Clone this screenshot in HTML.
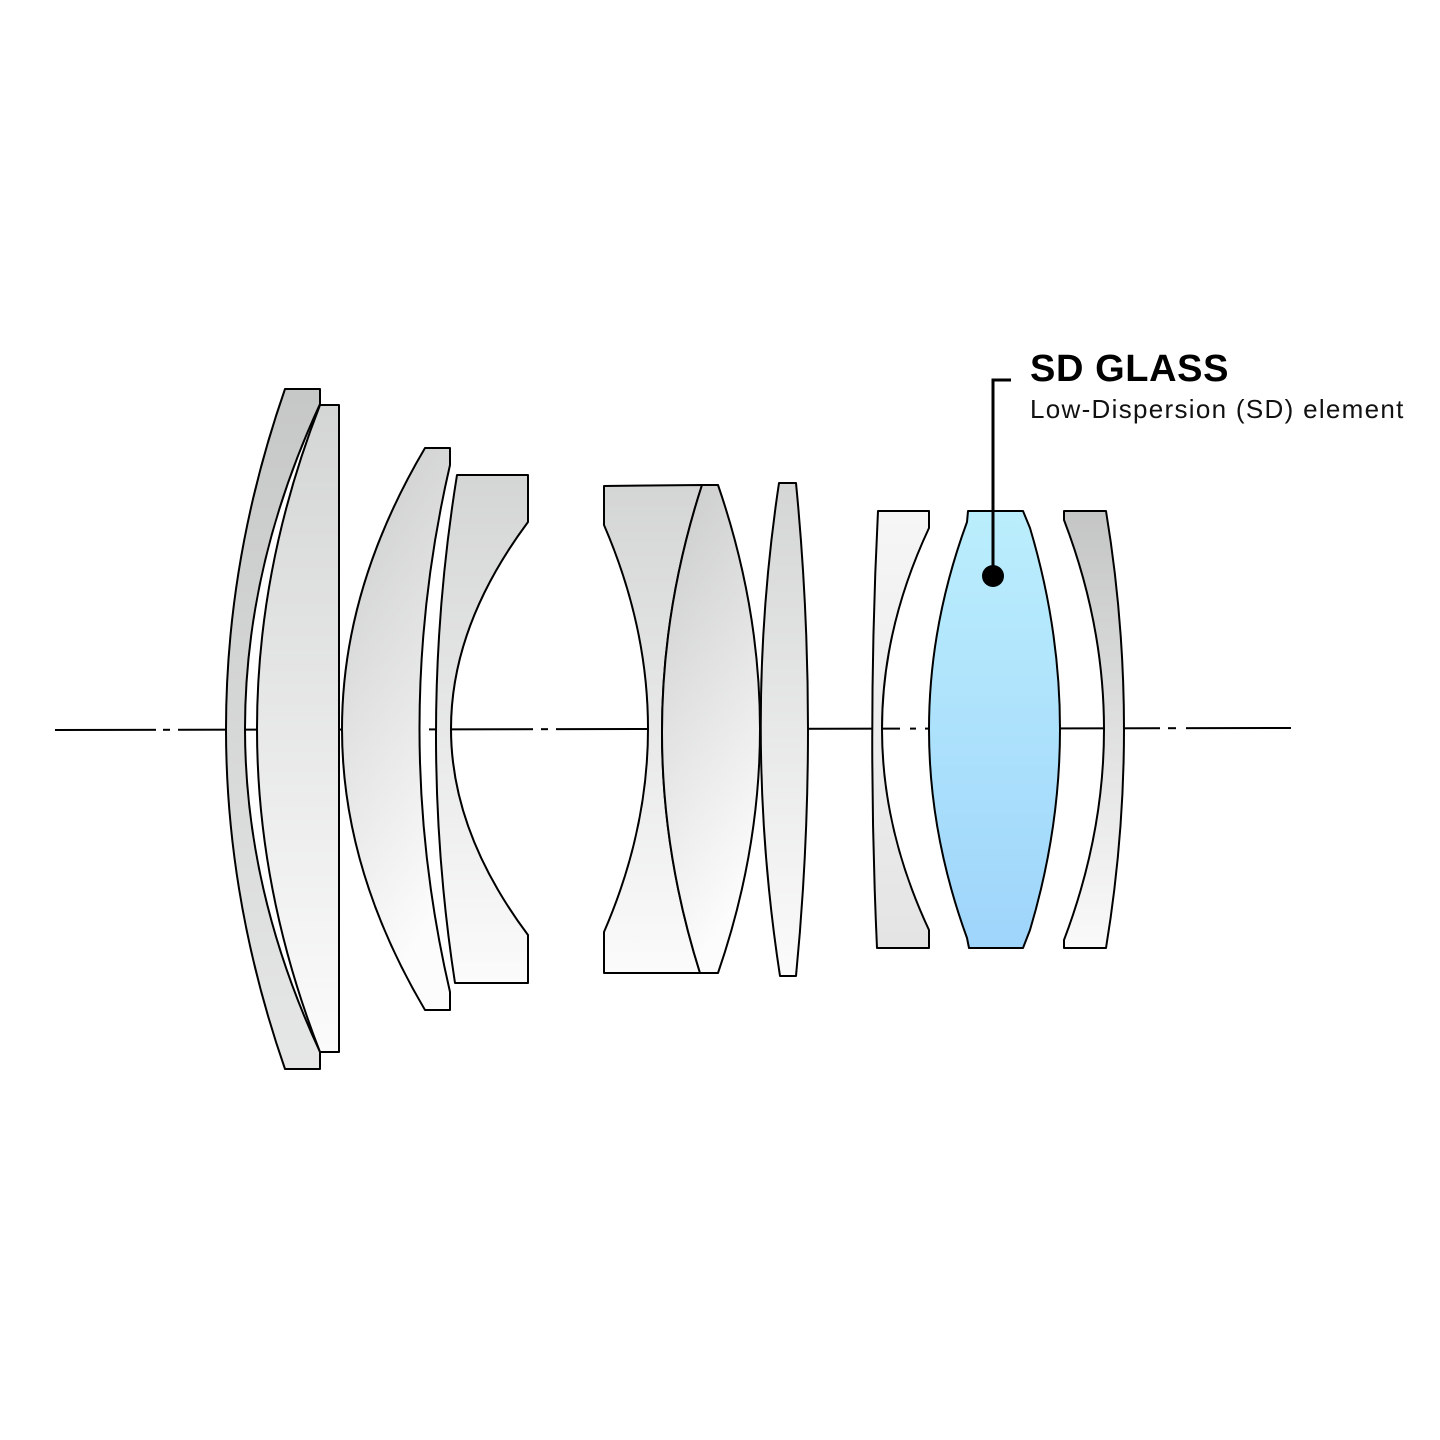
<!DOCTYPE html>
<html><head><style>html,body{margin:0;padding:0;background:#fff;width:1440px;height:1440px;overflow:hidden}</style></head>
<body>
<svg width="1440" height="1440" viewBox="0 0 1440 1440" xmlns="http://www.w3.org/2000/svg">
<defs>
<linearGradient id="g1" x1="0" y1="0" x2="0" y2="1"><stop offset="0" stop-color="#c6c7c7"/><stop offset="1" stop-color="#e6e7e7"/></linearGradient>
<linearGradient id="g2" x1="0" y1="0" x2="0" y2="1"><stop offset="0" stop-color="#d4d5d5"/><stop offset="1" stop-color="#fbfbfb"/></linearGradient>
<linearGradient id="g3" x1="0" y1="0" x2="0.3" y2="1"><stop offset="0" stop-color="#c9caca"/><stop offset="1" stop-color="#fcfcfc"/></linearGradient>
<linearGradient id="g8" x1="0" y1="0" x2="0" y2="1"><stop offset="0" stop-color="#f6f6f6"/><stop offset="1" stop-color="#e4e4e4"/></linearGradient>
<linearGradient id="gb" x1="0" y1="0" x2="0" y2="1"><stop offset="0" stop-color="#bbeefc"/><stop offset="1" stop-color="#9fd5fb"/></linearGradient>
<linearGradient id="g10" x1="0" y1="0" x2="0" y2="1"><stop offset="0" stop-color="#c4c5c5"/><stop offset="1" stop-color="#fafafa"/></linearGradient>
</defs>
<g stroke="#000" stroke-width="2" fill="none">
<line x1="55" y1="730" x2="1291" y2="728"/>
</g>
<g stroke="#fff" stroke-width="4">
<line x1="156" y1="729" x2="163" y2="729"/><line x1="170" y1="729" x2="178" y2="729"/>
<line x1="420" y1="729" x2="429" y2="729"/>
<line x1="533" y1="729" x2="541" y2="729"/><line x1="548" y1="729" x2="556" y2="729"/>
<line x1="900" y1="729" x2="910" y2="729"/><line x1="916" y1="729" x2="925" y2="729"/>
<line x1="1160" y1="729" x2="1168" y2="729"/><line x1="1176" y1="729" x2="1186" y2="729"/>
</g>
<g stroke="#000" stroke-width="2" stroke-linejoin="round">
<path fill="url(#g1)" d="M285,389 L320,389 L320,404 Q170,729 320,1052 L320,1069 L285,1069 Q167,729 285,389 Z"/>
<path fill="url(#g2)" d="M320,405 L339,405 L339,1052 L320,1052 Q194,729 320,405 Z"/>
<path fill="url(#g3)" d="M425,448 L450,448 L450,465 Q389,729 450,992 L450,1010 L425,1010 Q259,729 425,448 Z"/>
<path fill="url(#g2)" d="M457,475 L528,475 L528,522 Q374,729 528,935 L528,983 L455,983 Q416,729 457,475 Z"/>
<path fill="url(#g2)" d="M604,486 L702,485 Q623,729 700,973 L604,973 L604,932 Q692,729 604,525 Z"/>
<path fill="url(#g3)" d="M702,485 L718,485 Q802,729 718,973 L700,973 Q623,729 702,485 Z"/>
<path fill="url(#g2)" d="M779,483 L796,483 Q820,729 796,976 L780,976 Q742,729 779,483 Z"/>
<path fill="url(#g8)" d="M878,511 L929,511 L929,528 Q835,729 929,930 L929,948 L877,948 Q867,729 878,511 Z"/>
<path fill="url(#gb)" d="M968,511 L1023,511 L1030,528 Q1090,729 1030,930 L1023,948 L969,948 L967,938 Q891,729 967,522 Z"/>
<path fill="url(#g10)" d="M1064,511 L1106,511 Q1142,729 1106,948 L1064,948 L1064,940 Q1144,729 1064,520 Z"/>
</g>
<path d="M993,576 L993,380 L1011,380" stroke="#000" stroke-width="3" fill="none"/>
<circle cx="993" cy="576" r="11" fill="#000"/>
<text x="1030" y="381" font-family="Liberation Sans, sans-serif" font-weight="bold" font-size="38" letter-spacing="0.6" fill="#000">SD GLASS</text>
<text x="1030" y="418" font-family="Liberation Sans, sans-serif" font-size="26" letter-spacing="1.3" fill="#111">Low-Dispersion (SD) element</text>
</svg>
</body></html>
